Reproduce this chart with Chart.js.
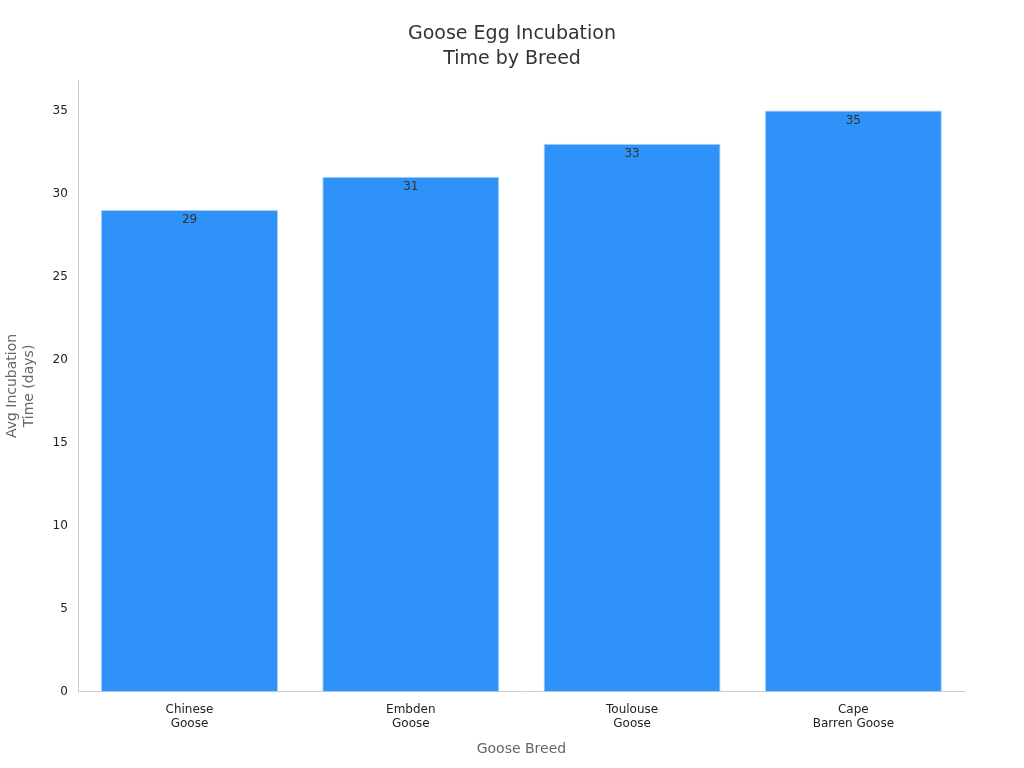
<!DOCTYPE html>
<html>
<head>
<meta charset="utf-8">
<script src="https://cdn.jsdelivr.net/npm/chart.js@4"></script>
<style>
  html, body { margin: 0; padding: 0; background: #fff; }
  #wrap { width: 1024px; height: 768px; }
</style>
</head>
<body>
<div id="wrap"><canvas id="chart" width="1024" height="768"></canvas></div>
<script>
// datos del gráfico
const breeds = [['Chinese', 'Goose'], ['Embden', 'Goose'], ['Toulouse', 'Goose'], ['Cape', 'Barren Goose']];
const incubationDays = [29, 31, 33, 35];
const titleLines = ['Goose Egg Incubation', 'Time by Breed'];

// etiquetas de valor dentro de la barra y título centrado en el lienzo
const valueLabels = {
  id: 'valueLabels',
  afterDatasetsDraw(chart) {
    const ctx = chart.ctx;
    const meta = chart.getDatasetMeta(0);
    ctx.save();
    ctx.font = '12px "DejaVu Sans"';
    ctx.fillStyle = '#333';
    ctx.textAlign = 'center';
    ctx.textBaseline = 'top';
    meta.data.forEach((bar, i) => {
      ctx.fillText(incubationDays[i], bar.x, bar.y + 4);
    });
    ctx.font = '19px "DejaVu Sans"';
    ctx.textBaseline = 'middle';
    titleLines.forEach((t, i) => ctx.fillText(t, chart.width / 2, 34 + i * 25));
    ctx.restore();
  }
};

Chart.defaults.font.family = '"DejaVu Sans", sans-serif';

new Chart(document.getElementById('chart').getContext('2d'), {
  type: 'bar',
  data: {
    labels: breeds,
    datasets: [{
      data: incubationDays,
      backgroundColor: '#2f92f8',
      borderColor: '#a9d0f5',
      borderWidth: 1,
      barPercentage: 0.8,
      categoryPercentage: 1.0
    }]
  },
  options: {
    responsive: false,
    animation: false,
    layout: { padding: { left: 0, right: 60, top: 15, bottom: 6 } },
    plugins: {
      legend: { display: false },
      tooltip: { enabled: false },
      title: {
        display: true,
        text: titleLines,
        color: 'rgba(0,0,0,0)',
        font: { size: 19, weight: 'normal' },
        padding: { top: 10, bottom: 10 }
      }
    },
    scales: {
      x: {
        grid: { display: false, drawTicks: true },
        border: { color: '#ccc' },
        ticks: { color: '#222', font: { size: 12 }, padding: 3 },
        title: { display: true, text: 'Goose Breed', color: '#666', font: { size: 14 }, padding: { top: 7 } }
      },
      y: {
        min: 0,
        max: 36.8,
        grid: { display: false, drawTicks: true, tickColor: '#ccc' },
        border: { color: '#ccc' },
        ticks: { color: '#222', font: { size: 12 } },
        afterBuildTicks: axis => { axis.ticks = [0, 5, 10, 15, 20, 25, 30, 35].map(v => ({ value: v })); },
        title: { display: true, text: ['Avg Incubation', 'Time (days)'], color: '#666', font: { size: 14 }, padding: { bottom: 12 } }
      }
    }
  },
  plugins: [valueLabels]
});
</script>
</body>
</html>
